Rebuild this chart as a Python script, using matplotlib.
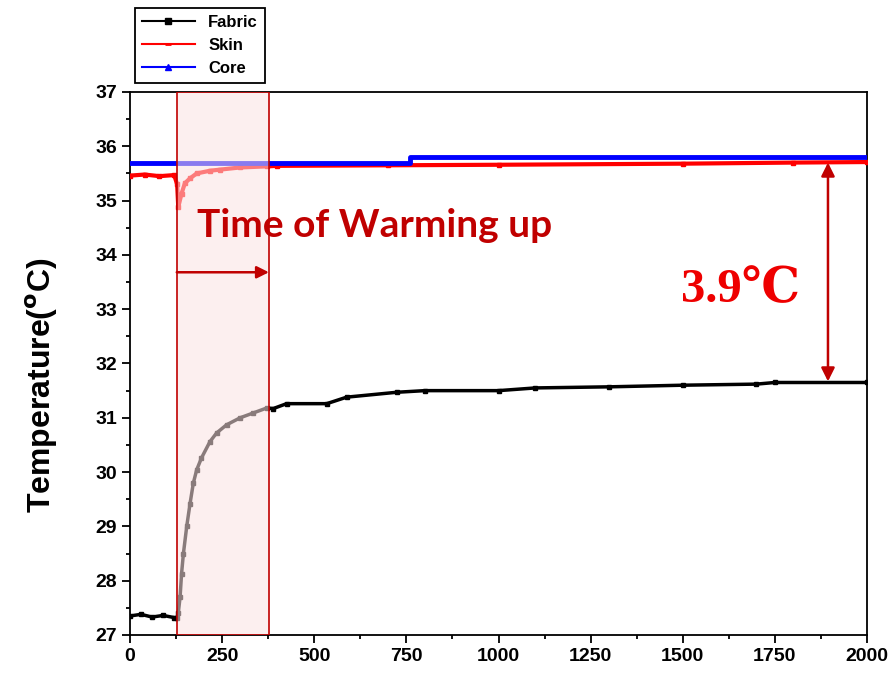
import matplotlib.pyplot as plt
from matplotlib.lines import Line2D
from matplotlib.patches import Rectangle

# values
time_fabric = [0, 30, 60, 90, 120, 128, 131, 136, 140, 145, 154, 163, 172, 181, 194, 217, 235,
               262, 299, 335, 371, 389, 425, 534, 588, 724, 800, 1000, 1100, 1300, 1500, 1700, 1750, 2000]
temp_fabric = [27.35, 27.38, 27.33, 27.36, 27.32, 27.32, 27.4, 27.7, 28.13, 28.5, 29.0, 29.42, 29.8,
               30.04, 30.26, 30.56, 30.72, 30.87, 31.0, 31.09, 31.18, 31.17, 31.26, 31.26, 31.38, 31.47,
               31.5, 31.5, 31.55, 31.57, 31.6, 31.62, 31.65, 31.65]

time_skin = [0, 40, 80, 120, 128, 131, 140, 149, 163, 181, 217, 244, 299, 371, 400, 700, 1000, 1500, 1800, 2000]
temp_skin = [35.46, 35.48, 35.45, 35.47, 35.3, 34.88, 35.13, 35.32, 35.41, 35.5, 35.55, 35.57, 35.61,
             35.63, 35.64, 35.65, 35.66, 35.68, 35.7, 35.71]

time_core = [0, 250, 500, 745, 760, 1000, 1250, 1500, 1750, 2000]
temp_core = [35.7, 35.7, 35.7, 35.7, 35.8, 35.8, 35.8, 35.8, 35.8, 35.8]

warm_start, warm_end = 127, 377
gap_x, gap_top, gap_bottom = 1894, 35.7, 31.67

plt.rcParams['font.family'] = ['Liberation Sans', 'DejaVu Sans']

fig = plt.figure(figsize=(8.89, 6.73), dpi=100)
ax = fig.add_axes([0.1462, 0.0565, 0.8291, 0.8068])

ax.plot(time_fabric, temp_fabric, color='black', lw=2.5, marker='s', ms=3.5, zorder=3)
ax.plot(time_skin, temp_skin, color='red', lw=3, marker='s', ms=3, zorder=3)
ax.plot(time_core, temp_core, color='blue', lw=3.5, drawstyle='steps-post', zorder=4)

ax.add_patch(Rectangle((warm_start, 27), warm_end - warm_start, 10, facecolor='#fbe2e2', alpha=0.55,
                       edgecolor='none', zorder=5))
ax.add_patch(Rectangle((warm_start, 27), warm_end - warm_start, 10, facecolor='none',
                       edgecolor='#c00000', lw=1.2, zorder=6))

ax.text(182, 34.55, 'Time of Warming up', color='#c00000', fontsize=28, fontweight='bold',
        family=['Lato', 'DejaVu Sans'], va='center', ha='left', zorder=7)
ax.annotate('', xy=(warm_end, 33.68), xytext=(warm_start, 33.68),
            arrowprops=dict(arrowstyle='-|>', color='#c00000', lw=1.8, mutation_scale=18,
                            shrinkA=0, shrinkB=0), zorder=7)
ax.annotate('', xy=(gap_x, gap_top), xytext=(gap_x, gap_bottom),
            arrowprops=dict(arrowstyle='<|-|>', color='#c00000', lw=1.8, mutation_scale=20,
                            shrinkA=0, shrinkB=0), zorder=7)
ax.text(1495, 33.35, '3.9\u2103', color='#ee0000', fontsize=35, fontweight='bold',
        family=['Liberation Serif', 'DejaVu Serif'], va='center', ha='left', zorder=7)

ax.set_xlim(0, 2000)
ax.set_ylim(27, 37)
ax.set_xticks(range(0, 2001, 250))
ax.set_xticks(range(0, 2001, 125), minor=True)
ax.set_yticks(range(27, 38))
ax.set_yticks([27.5 + i for i in range(10)], minor=True)
ax.tick_params(which='both', direction='out', width=1.3, top=False, right=False)
ax.tick_params(which='major', length=6, labelsize=14)
ax.tick_params(which='minor', length=3)
for lab in ax.get_xticklabels() + ax.get_yticklabels():
    lab.set_fontweight('bold')
for sp in ax.spines.values():
    sp.set_linewidth(1.3)

ax.set_ylabel('Temperature($\\mathbf{^{o}}$C)', fontsize=23, fontweight='bold')
ax.yaxis.set_label_coords(-0.095, 0.46)

handles = [Line2D([], [], color='black', marker='s', ms=4, lw=1.5),
           Line2D([], [], color='red', marker='_', ms=5, mew=2, lw=1.5),
           Line2D([], [], color='blue', marker='^', ms=4, lw=1.5)]
leg = fig.legend(handles, ['Fabric', 'Skin', 'Core'], loc='upper left',
                 bbox_to_anchor=(135 / 889, 1 - 8 / 673), fancybox=False, edgecolor='black',
                 prop={'weight': 'bold', 'size': 12}, handlelength=3.2, borderaxespad=0,
                 labelspacing=0.5, framealpha=1)
leg.get_frame().set_linewidth(1.3)

fig.savefig('out.png', dpi=100)
